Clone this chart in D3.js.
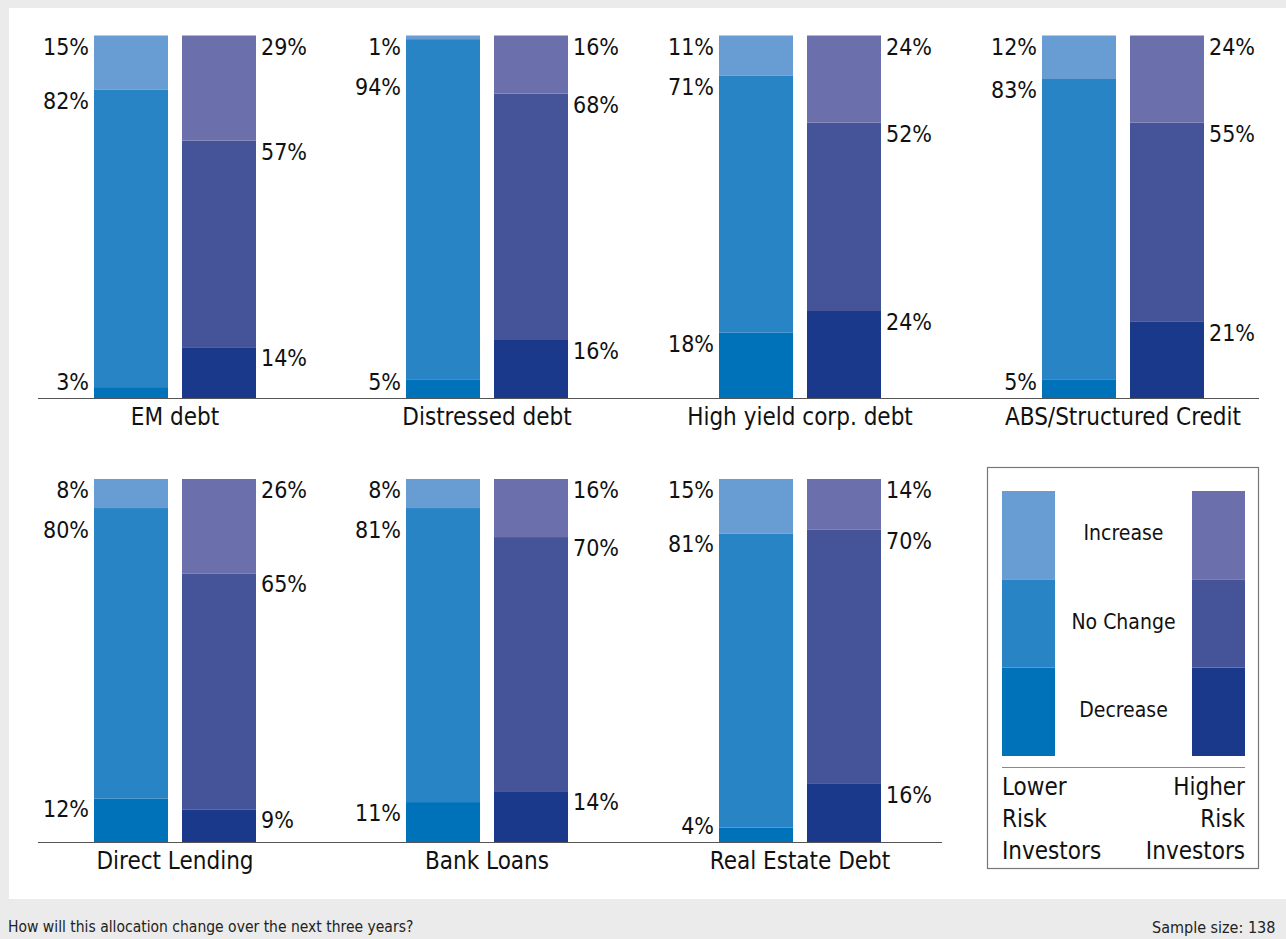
<!DOCTYPE html>
<html>
<head>
<meta charset="utf-8">
<script src="https://cdn.jsdelivr.net/npm/d3@7"></script>
<style>
  html, body { margin: 0; padding: 0; background: #ebebeb; }
  svg { display: block; }
  text { font-family: "DejaVu Sans Condensed", "DejaVu Sans", sans-serif; fill: #111; }
</style>
</head>
<body>
<svg id="chart" width="1286" height="939"></svg>
<script>
// Survey answers, percentage of respondents per asset class
const categories = ["EM debt", "Distressed debt", "High yield corp. debt", "ABS/Structured Credit",
                    "Direct Lending", "Bank Loans", "Real Estate Debt"];
const lowerIncrease  = [15, 1, 11, 12, 8, 8, 15];
const lowerNoChange  = [82, 94, 71, 83, 80, 81, 81];
const lowerDecrease  = [3, 5, 18, 5, 12, 11, 4];
const higherIncrease = [29, 16, 24, 24, 26, 16, 14];
const higherNoChange = [57, 68, 52, 55, 65, 70, 70];
const higherDecrease = [14, 16, 24, 21, 9, 14, 16];
const groups = ["Lower", "Higher"];
const changes = ["Decrease", "No Change", "Increase"];
const legendLeft = ["Lower", "Risk", "Investors"];
const legendRight = ["Higher", "Risk", "Investors"];
const footerLeft = "How will this allocation change over the next three years?";
const footerRight = "Sample size: 138";

// Colours per investor group and answer
const colors = {
  Lower:  { "Increase": "#689dd3", "No Change": "#2984c6", "Decrease": "#0072b9" },
  Higher: { "Increase": "#6b70ac", "No Change": "#455398", "Decrease": "#1b398a" }
};

// Panel grid
const colCenters = [175, 487, 800, 1123];
const rows = [
  { top: 35.5, base: 398, lineX: [38, 1259] },
  { top: 479,  base: 842, lineX: [38, 942] }
];

const svg = d3.select("#chart");
svg.append("rect").attr("width", 1286).attr("height", 939).attr("fill", "#ebebeb");
svg.append("rect").attr("x", 9).attr("y", 8).attr("width", 1277).attr("height", 891).attr("fill", "#fff");

const stack = d3.stack().keys(changes);
const values = {
  Lower:  categories.map((c, i) => ({ "Increase": lowerIncrease[i], "No Change": lowerNoChange[i], "Decrease": lowerDecrease[i] })),
  Higher: categories.map((c, i) => ({ "Increase": higherIncrease[i], "No Change": higherNoChange[i], "Decrease": higherDecrease[i] }))
};
const stacked = {
  Lower: stack(values.Lower),
  Higher: stack(values.Higher)
};

// Baselines
rows.forEach(r => {
  svg.append("line")
    .attr("x1", r.lineX[0]).attr("x2", r.lineX[1])
    .attr("y1", r.base + 0.5).attr("y2", r.base + 0.5)
    .attr("stroke", "#555").attr("stroke-width", 1.2);
});

categories.forEach((cat, i) => {
  const row = rows[i < 4 ? 0 : 1];
  const cx = colCenters[i % 4];
  const x = d3.scaleBand().domain(groups).range([cx - 81, cx + 81]).paddingInner(14 / 88).paddingOuter(0);
  const y = d3.scaleLinear().domain([0, 100]).range([row.base, row.top]);
  const g = svg.append("g");

  groups.forEach(grp => {
    const segs = stacked[grp].map(layer => ({ key: layer.key, y0: layer[i][0], y1: layer[i][1], v: values[grp][i][layer.key] }));
    g.selectAll(null).data(segs).enter().append("rect")
      .attr("x", x(grp))
      .attr("width", x.bandwidth())
      .attr("y", d => y(d.y1))
      .attr("height", d => y(d.y0) - y(d.y1))
      .attr("fill", d => colors[grp][d.key]);

    // labels from top segment down, kept apart from each other and off the baseline
    const ordered = segs.slice().reverse();
    let prev = -Infinity;
    ordered.forEach(d => {
      let cy = Math.min(y(d.y1) + 11, row.base - 16);
      cy = Math.max(cy, prev + 40);
      d.cy = cy;
      prev = cy;
    });
    g.selectAll(null).data(ordered).enter().append("text")
      .attr("x", grp === "Lower" ? x(grp) - 5 : x(grp) + x.bandwidth() + 5)
      .attr("y", d => d.cy)
      .attr("dominant-baseline", "central")
      .attr("text-anchor", grp === "Lower" ? "end" : "start")
      .style("font-size", "23px")
      .text(d => d.v + "%");
  });

  g.append("text")
    .attr("x", cx)
    .attr("y", row.base + 19)
    .attr("dominant-baseline", "central")
    .attr("text-anchor", "middle")
    .style("font-size", "24px")
    .text(cat);
});

// Legend
const lg = svg.append("g");
lg.append("rect").attr("x", 987.5).attr("y", 467.5).attr("width", 271).attr("height", 401)
  .attr("fill", "#fff").attr("stroke", "#777").attr("stroke-width", 1.2);
const lwidth = 53;
const ly = d3.scaleLinear().domain([0, 3]).range([756, 491]);
groups.forEach((grp, gi) => {
  const x0 = gi === 0 ? 1002 : 1245 - lwidth;
  lg.selectAll(null).data(changes).enter().append("rect")
    .attr("x", x0).attr("width", lwidth)
    .attr("y", (d, k) => ly(k + 1))
    .attr("height", (d, k) => ly(k) - ly(k + 1))
    .attr("fill", d => colors[grp][d]);
});
lg.selectAll(null).data(changes).enter().append("text")
  .attr("x", 1123.5)
  .attr("y", (d, k) => (ly(k) + ly(k + 1)) / 2 - 2)
  .attr("dominant-baseline", "central")
  .attr("text-anchor", "middle")
  .style("font-size", "21px")
  .text(d => d);
lg.append("line").attr("x1", 1002).attr("x2", 1245).attr("y1", 767.5).attr("y2", 767.5)
  .attr("stroke", "#888").attr("stroke-width", 1.2);
lg.selectAll(null).data(legendLeft).enter().append("text")
  .attr("x", 1002).attr("y", (d, k) => 787 + k * 32)
  .attr("dominant-baseline", "central")
  .style("font-size", "24px")
  .text(d => d);
lg.selectAll(null).data(legendRight).enter().append("text")
  .attr("x", 1245).attr("y", (d, k) => 787 + k * 32)
  .attr("dominant-baseline", "central")
  .attr("text-anchor", "end")
  .style("font-size", "24px")
  .text(d => d);

// Footer
svg.append("text").attr("x", 8).attr("y", 927).attr("dominant-baseline", "central")
  .style("font-size", "15.5px").style("fill", "#222").text(footerLeft);
svg.append("text").attr("x", 1152).attr("y", 927).attr("dominant-baseline", "central")
  .style("font-size", "16px").style("fill", "#222").text(footerRight);
</script>
</body>
</html>
